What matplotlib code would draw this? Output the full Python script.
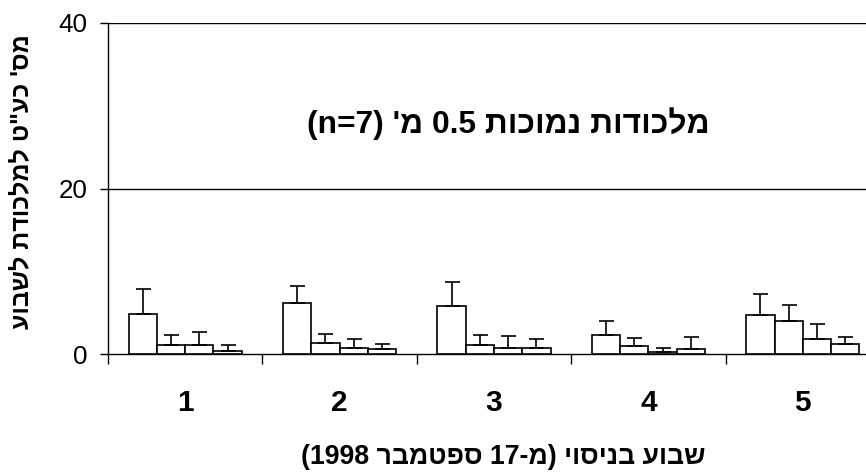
import re
import numpy as np
import matplotlib
matplotlib.use("Agg")
import matplotlib.pyplot as plt

# weeks 1..5, four traps/series per week
weeks = ["1", "2", "3", "4", "5"]
means = [
  [4.9, 6.2, 5.8, 2.3, 4.8],
  [1.1, 1.4, 1.1, 1.0, 4.0],
  [1.1, 0.8, 0.8, 0.3, 1.9],
  [0.4, 0.6, 0.8, 0.6, 1.2],
]
errs = [
  [3.0, 2.0, 2.9, 1.7, 2.5],
  [1.2, 1.0, 1.2, 1.0, 2.0],
  [1.6, 1.0, 1.4, 0.5, 1.7],
  [0.7, 0.6, 1.0, 1.5, 0.9],
]
title_txt = "מלכודות נמוכות 0.5 מ' (n=7)"
xlabel_txt = "שבוע בניסוי (מ-17 ספטמבר 1998)"
ylabel_txt = 'מס\' כע"ט למלכודת לשבוע'

fam = ["Liberation Sans", "DejaVu Sans"]
plt.rcParams["font.family"] = fam

def rtl(s):
  # crude visual reordering for an RTL line: keep latin/digit runs, reverse the rest
  toks = re.findall(r"[A-Za-z0-9.=]+|.", s)
  out = []
  for t in reversed(toks):
    if t == "(":
      t = ")"
    elif t == ")":
      t = "("
    out.append(t)
  return "".join(out)

fig = plt.figure(figsize=(8.66, 4.73), dpi=100)
ax = fig.add_axes([108/866, 1-354.3/473, (880-108)/866, (354.3-23)/473])

x = np.arange(len(weeks))
w = 0.183
for i in range(4):
  pos = x + (i-1.5)*w
  ax.bar(pos, means[i], width=w, color="white", edgecolor="black", linewidth=1.2, zorder=3)
  ax.errorbar(pos, means[i], yerr=[np.zeros(len(weeks)), errs[i]], fmt="none",
              ecolor="black", elinewidth=1.2, capsize=5.4, capthick=1.2, zorder=4)

ax.set_xlim(-0.5, 4.5)
ax.set_ylim(0, 40)
ax.set_yticks([0, 20, 40])
ax.tick_params(axis="y", direction="out", length=6, width=1, labelsize=18.7, pad=8.5)
for yv in [20, 40]:
  ax.axhline(yv, color="black", lw=1, zorder=1)

ax.set_xticks(np.arange(-0.5, 4.5, 1))
ax.set_xticklabels([])
ax.tick_params(axis="x", which="major", direction="out", length=7.5, width=1)
ax.set_xticks(x, minor=True)
ax.set_xticklabels(weeks, minor=True, fontsize=21.5, fontweight="bold")
ax.tick_params(axis="x", which="minor", length=0, pad=25)

for s in ["top", "right"]:
  ax.spines[s].set_visible(False)
ax.spines["left"].set_linewidth(1)
ax.spines["bottom"].set_linewidth(1)

fig.text(508/866, 1-124/473, rtl(title_txt), ha="center", va="center",
         fontsize=22.9, fontweight="bold")
fig.text(503/866, 1-457/473, rtl(xlabel_txt), ha="center", va="center",
         fontsize=19.2, fontweight="bold")
fig.text(21/866, 1-182/473, rtl(ylabel_txt), ha="center", va="center", rotation=90,
         fontsize=18, fontweight="bold")

fig.savefig("out.png", dpi=100)
